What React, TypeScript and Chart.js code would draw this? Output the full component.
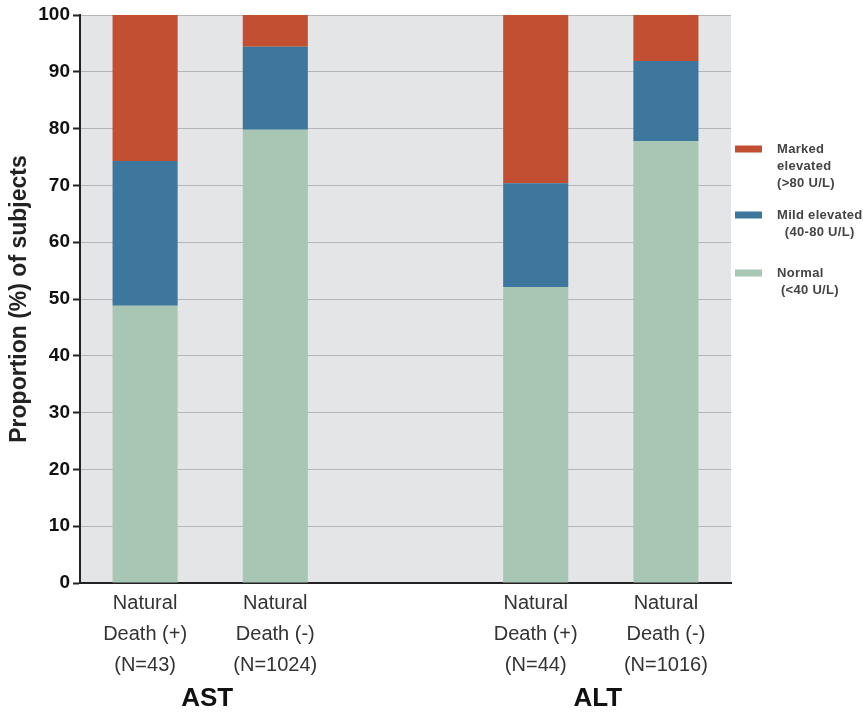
import React, { useEffect, useRef } from "react";
import { Chart, registerables } from "chart.js";

Chart.register(...registerables);

const categories: string[][] = [
  ["Natural", "Death (+)", "(N=43)"],
  ["Natural", "Death (-)", "(N=1024)"],
  [""],
  ["Natural", "Death (+)", "(N=44)"],
  ["Natural", "Death (-)", "(N=1016)"],
];
const normalValues = [48.8, 79.8, null, 52.1, 77.8];
const mildValues = [25.5, 14.6, null, 18.3, 14.1];
const markedValues = [25.7, 5.6, null, 29.6, 8.1];

const groupNames = ["AST", "ALT"];
const groupFirst = [0, 3];
const groupLast = [1, 4];

const legendLines: string[][] = [
  ["Marked", "elevated", "(>80 U/L)"],
  ["Mild elevated", "  (40-80 U/L)"],
  ["Normal", " (<40 U/L)"],
];
const legendColors = ["#c24f32", "#3e779e", "#a8c6b4"];

const yTicks = [0, 10, 20, 30, 40, 50, 60, 70, 80, 90, 100];

const FONT = "'Liberation Sans', Arial, Helvetica, sans-serif";

const extrasPlugin = {
  id: "extras",
  beforeDraw(chart: any) {
    const { ctx, chartArea } = chart;
    ctx.save();
    ctx.fillStyle = "#e4e5e7";
    ctx.fillRect(chartArea.left, chartArea.top, chartArea.right - chartArea.left, chartArea.bottom - chartArea.top);
    ctx.restore();
  },
  afterDraw(chart: any) {
    const { ctx, chartArea } = chart;
    const x = chart.scales.x;
    ctx.save();
    // group labels
    ctx.fillStyle = "#111";
    ctx.font = `bold 26px ${FONT}`;
    ctx.textAlign = "center";
    ctx.textBaseline = "middle";
    groupNames.forEach((g, i) => {
      const cx = (x.getPixelForValue(groupFirst[i]) + x.getPixelForValue(groupLast[i])) / 2;
      ctx.fillText(g, cx - 3, 699);
    });
    // legend
    const sx = chartArea.right + 4;
    const swW = 27;
    const swH = 7;
    const starts = [149, 215, 273];
    ctx.font = `bold 13px ${FONT}`;
    (ctx as any).letterSpacing = "0.3px";
    ctx.textAlign = "left";
    legendLines.forEach((lines, i) => {
      const y0 = starts[i];
      ctx.fillStyle = legendColors[i];
      ctx.fillRect(sx, y0 - swH / 2, swW, swH);
      ctx.fillStyle = "#444";
      lines.forEach((t, j) => {
        ctx.fillText(t, sx + 42, y0 + j * 17);
      });
    });
    ctx.restore();
  },
};

export default function App() {
  const ref = useRef<HTMLCanvasElement | null>(null);
  useEffect(() => {
    if (!ref.current) return;
    const chart = new Chart(ref.current, {
      type: "bar",
      data: {
        labels: categories,
        datasets: [
          { label: "Normal (<40 U/L)", data: normalValues, backgroundColor: legendColors[2] },
          { label: "Mild elevated (40-80 U/L)", data: mildValues, backgroundColor: legendColors[1] },
          { label: "Marked elevated (>80 U/L)", data: markedValues, backgroundColor: legendColors[0] },
        ],
      },
      options: {
        animation: false,
        responsive: false,
        maintainAspectRatio: false,
        layout: { padding: { top: 15, right: 132, left: 0, bottom: 0 } },
        datasets: { bar: { barPercentage: 0.5, categoryPercentage: 1.0, borderWidth: 0 } },
        plugins: { legend: { display: false }, tooltip: { enabled: false } },
        scales: {
          x: {
            stacked: true,
            grid: { display: false, drawTicks: false },
            border: { display: true, color: "#222", width: 2 },
            ticks: {
              color: "#333",
              font: { family: FONT, size: 20, lineHeight: 1.55 },
              padding: 5,
              maxRotation: 0,
              autoSkip: false,
            },
            afterFit: (s: any) => {
              s.height = 129;
            },
          },
          y: {
            stacked: true,
            min: 0,
            max: 100,
            afterBuildTicks: (s: any) => {
              s.ticks = yTicks.map((v) => ({ value: v }));
            },
            grid: { color: "#b5b6b8", lineWidth: 1, tickColor: "#222", tickLength: 7, tickWidth: 2 },
            border: { display: true, color: "#222", width: 2 },
            ticks: {
              color: "#111",
              font: { family: FONT, size: 19, weight: "bold" },
              padding: 3,
            },
            title: {
              display: true,
              text: "Proportion (%) of subjects",
              color: "#222",
              font: { family: FONT, size: 23, weight: "bold" },
              padding: { top: 6, bottom: 0 },
            },
            afterFit: (s: any) => {
              s.width = 80;
            },
          },
        },
      },
      plugins: [extrasPlugin],
    });
    return () => chart.destroy();
  }, []);
  return (
    <div style={{ position: "fixed", left: 0, top: 0, width: 863, height: 712, background: "#fff" }}>
      <canvas ref={ref} width={863} height={712} style={{ display: "block", width: 863, height: 712 }} />
    </div>
  );
}
